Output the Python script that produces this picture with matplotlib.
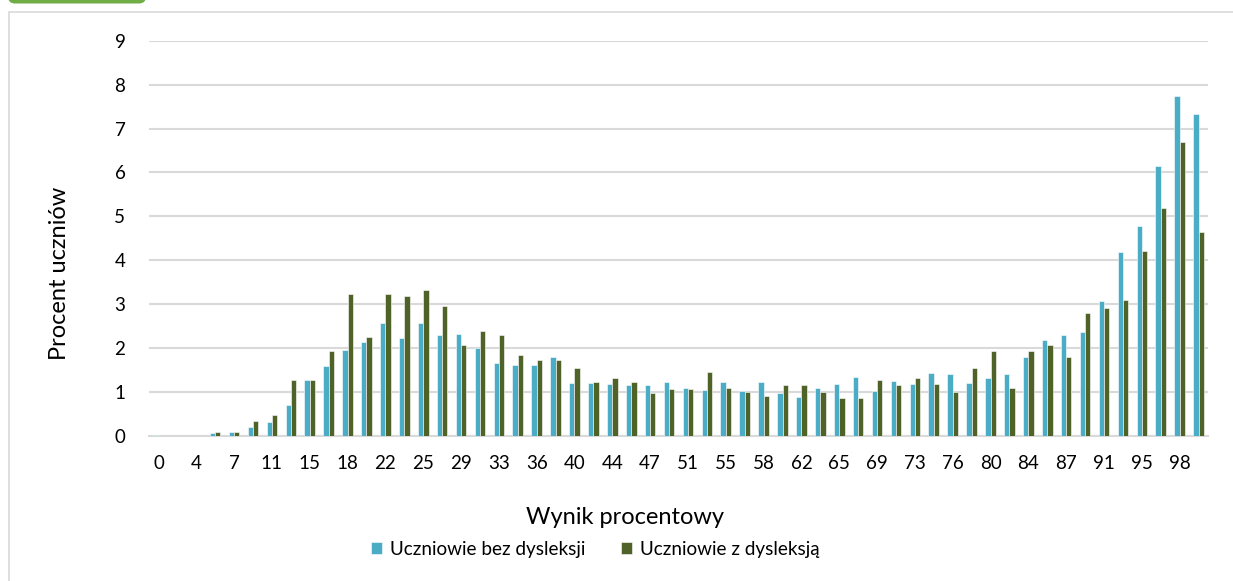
import matplotlib
matplotlib.use("Agg")
import matplotlib.pyplot as plt
import numpy as np
from matplotlib.patches import FancyBboxPatch, Rectangle
from matplotlib.transforms import IdentityTransform

plt.rcParams["font.family"] = ["Lato", "DejaVu Sans"]

# ── dane ──────────────────────────────────────────────────────
wyniki = [0, 2, 4, 5, 7, 9, 11, 13, 15, 16, 18, 20, 22, 24, 25, 27, 29, 31,
          33, 35, 36, 38, 40, 42, 44, 45, 47, 49, 51, 53, 55, 56, 58, 60,
          62, 64, 65, 67, 69, 71, 73, 75, 76, 78, 80, 82, 84, 85, 87, 89,
          91, 93, 95, 96, 98, 100]

bez_dysleksji = [0.02, 0.01, 0.0, 0.06, 0.08, 0.20, 0.33, 0.71, 1.28, 1.59,
                 1.95, 2.15, 2.57, 2.23, 2.57, 2.31, 2.32, 2.00, 1.66, 1.61,
                 1.61, 1.79, 1.21, 1.20, 1.18, 1.15, 1.17, 1.22, 1.10, 1.04,
                 1.24, 1.02, 1.22, 0.97, 0.89, 1.09, 1.19, 1.34, 1.02, 1.26,
                 1.19, 1.44, 1.42, 1.21, 1.32, 1.42, 1.79, 2.19, 2.29, 2.36,
                 3.08, 4.20, 4.78, 6.14, 7.74, 7.32]

z_dysleksja = [0.01, 0.01, 0.0, 0.08, 0.08, 0.35, 0.47, 1.28, 1.28, 1.94,
               3.23, 2.25, 3.23, 3.18, 3.32, 2.96, 2.08, 2.38, 2.29, 1.85,
               1.72, 1.72, 1.55, 1.23, 1.32, 1.23, 0.97, 1.06, 1.06, 1.45,
               1.10, 1.00, 0.92, 1.15, 1.15, 1.01, 0.87, 0.87, 1.28, 1.15,
               1.32, 1.19, 1.01, 1.54, 1.94, 1.10, 1.94, 2.08, 1.81, 2.79,
               2.92, 3.10, 4.21, 5.18, 6.69, 4.65]

seria = ["Uczniowie bez dysleksji", "Uczniowie z dysleksją"]
kolory = ["#4BACC6", "#4F6228"]

# ── wykres ────────────────────────────────────────────────────
W, H = 1233, 581
fig = plt.figure(figsize=(W / 100, H / 100), dpi=100)

# ramka i zielona zakładka (w pikselach)
fig.patches.append(Rectangle((9, -20), W, H - 12 + 20, transform=IdentityTransform(),
                             fill=False, edgecolor="#D9D9D9", linewidth=1.2))
fig.patches.append(FancyBboxPatch((8, H - 3.5), 138, 30,
                                  boxstyle="round,pad=0,rounding_size=7",
                                  transform=IdentityTransform(),
                                  facecolor="#70AD47", edgecolor="none"))

ax = fig.add_axes([149 / W, 1 - 436 / H, (1208 - 149) / W, (436 - 40.7) / H])

x = np.arange(len(wyniki))
w = 0.28
ax.bar(x - w / 2, bez_dysleksji, width=w, color=kolory[0], edgecolor="white",
       linewidth=0.4, label=seria[0], zorder=3)
ax.bar(x + w / 2, z_dysleksja, width=w, color=kolory[1], edgecolor="white",
       linewidth=0.4, label=seria[1], zorder=3)

ax.set_xlim(-0.5, len(wyniki) - 0.5)
ax.set_ylim(0, 9)
ax.set_yticks(range(0, 10))
ax.set_xticks(x[::2])
ax.set_xticklabels([str(v) for v in wyniki[::2]])
ax.tick_params(axis="both", length=0, labelsize=13.5, colors="#000000")
ax.tick_params(axis="x", pad=14)
ax.tick_params(axis="y", pad=17)

ax.grid(axis="y", color="#D9D9D9", linewidth=1.5, zorder=0)
for s in ["top", "right", "left"]:
    ax.spines[s].set_visible(False)
ax.spines["bottom"].set_color("#D9D9D9")
ax.spines["bottom"].set_linewidth(1.5)

fig.text(60 / W, 1 - 273 / H, "Procent uczniów", fontsize=17, rotation=90,
         ha="center", va="center")
fig.text(625 / W, 1 - 518 / H, "Wynik procentowy", fontsize=17,
         ha="center", va="center")

fig.legend(loc="center", bbox_to_anchor=(595 / W, 1 - 549 / H), ncol=2,
           frameon=False, fontsize=13.6, handlelength=0.6, handleheight=0.6,
           handletextpad=0.4, columnspacing=1.9, borderpad=0)

fig.savefig("out.png", dpi=100)
